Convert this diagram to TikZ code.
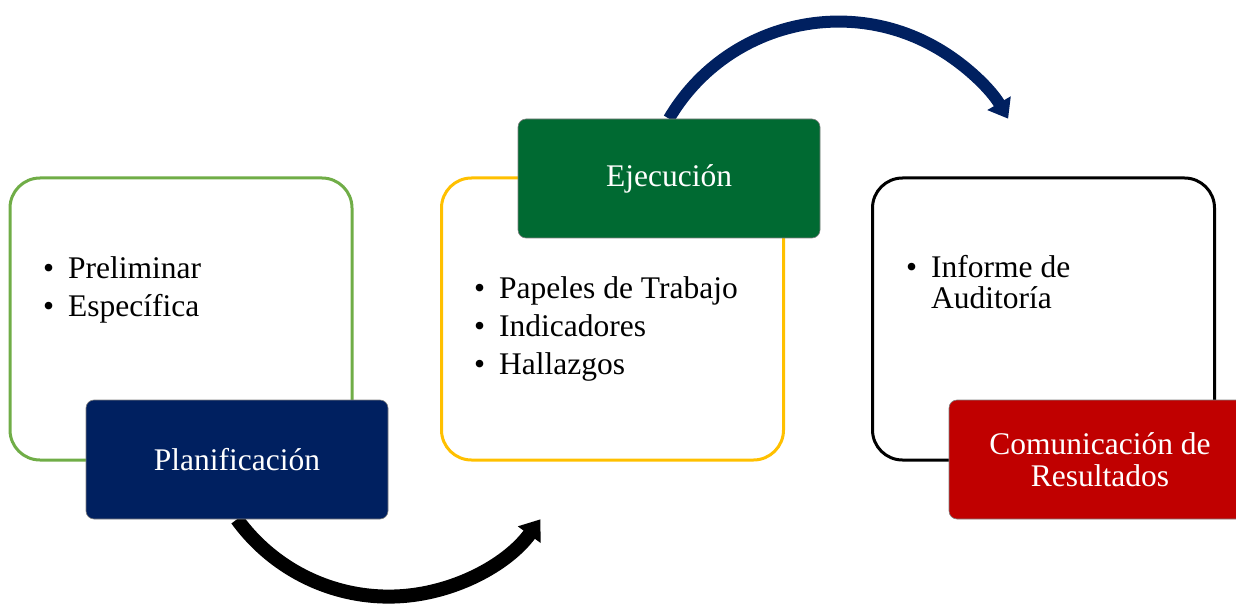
\documentclass[tikz,border=0pt]{standalone}
\usepackage{fontspec}
\setmainfont{Liberation Serif}
\usetikzlibrary{arrows.meta}

\definecolor{verdeborde}{HTML}{70AD47}
\definecolor{amarillo}{HTML}{FFC000}
\definecolor{azul}{HTML}{002060}
\definecolor{verde}{HTML}{006A32}
\definecolor{rojo}{HTML}{C00000}

\pgfdeclarelayer{fondo}
\pgfsetlayers{fondo,main}

\newcommand{\punto}{\makebox[25pt][l]{\textbullet}}

\tikzset{
  caja/.style={draw, line width=3pt, rounded corners=30pt, minimum width=342pt, minimum height=282pt, inner sep=0pt},
  etapa/.style={draw=black!50, line width=0.6pt, rounded corners=8pt, minimum width=302pt, minimum height=119pt, text=white, align=center, font=\fontsize{31.5}{32}\selectfont},
  lista/.style={anchor=base west, inner sep=0pt, font=\fontsize{31.5}{38}\selectfont}
}

\begin{document}
\begin{tikzpicture}[x=1pt,y=1pt]
\useasboundingbox (0,0) rectangle (1236,606);
% cajas grandes
\node[caja, draw=verdeborde] (c1) at (181,287) {};
\node[caja, draw=amarillo] (c2) at (612.5,287) {};
\node[caja, draw=black] (c3) at (1043.5,287) {};
% listas
\node[lista] (l1) at (43,328) {\begin{tabular}[t]{@{}l@{}}\punto Preliminar\\ \punto Específica\end{tabular}};
\node[lista] (l2) at (474,308) {\begin{tabular}[t]{@{}l@{}}\punto Papeles de Trabajo\\ \punto Indicadores\\ \punto Hallazgos\end{tabular}};
\node[lista] (l3) at (906,329) {\begin{tabular}[t]{@{}l@{}}\punto Informe de\\[-7pt] \hspace*{25pt}Auditoría\end{tabular}};
% etapas
\node[etapa, fill=azul] (plan) at (237,146.5) {Planificación};
\node[etapa, fill=verde] (eje) at (669,427.5) {Ejecución};
\node[etapa, fill=rojo] (com) at (1100,146.5) {Comunicación de\\Resultados};
% flechas
\begin{pgfonlayer}{fondo}
\draw[line width=14pt, -{Triangle[length=19pt,width=27pt]}] (plan.south) arc[start angle=216, end angle=324, radius=187.5];
\draw[azul, line width=12pt, -{Triangle[length=18pt,width=26pt]}] (eje.north) arc[start angle=149.6, end angle=30.4, radius=196.6];
\end{pgfonlayer}
\end{tikzpicture}
\end{document}
